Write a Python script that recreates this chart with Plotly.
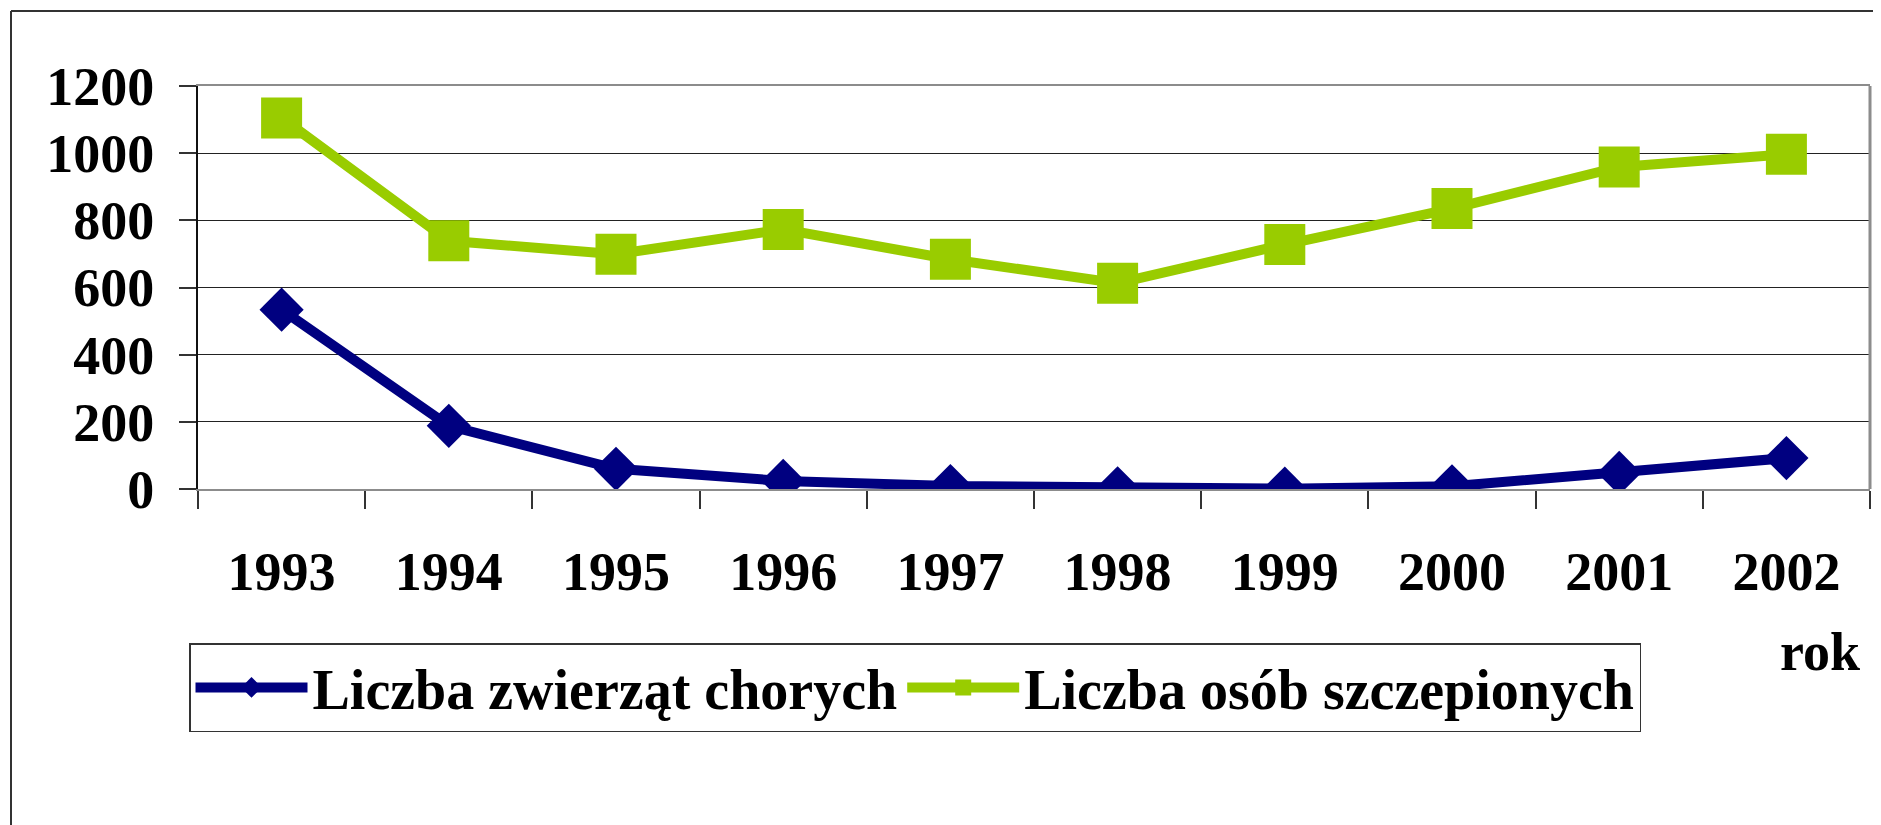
import plotly.graph_objects as go

years = ["1993", "1994", "1995", "1996", "1997", "1998", "1999", "2000", "2001", "2002"]
chore = [534, 188, 60, 24, 9, 2, 1, 8, 48, 92]
szczepione = [1105, 739, 699, 773, 684, 613, 728, 835, 959, 997]
y_ticks = [0, 200, 400, 600, 800, 1000, 1200]

# page has an 8px body margin: work in screen pixels, convert to figure pixels
OFF = 8
W, H = 1881 - OFF, 825 - OFF
PL, PR, PT, PB = 198, 1870, 86, 489  # plot area in screen pixels
ML, MR, MT, MB = PL - OFF, W - (PR - OFF), PT - OFF, H - (PB - OFF)
PW, PH = W - ML - MR, H - MT - MB

FONT = "Liberation Serif"

fig = go.Figure()
fig.add_trace(go.Scatter(
    x=years, y=chore, name="Liczba zwierząt chorych", mode="lines+markers",
    line=dict(color="#000080", width=10),
    marker=dict(symbol="diamond", size=34, color="#000080"),
))
fig.add_trace(go.Scatter(
    x=years, y=szczepione, name="Liczba osób szczepionych", mode="lines+markers",
    line=dict(color="#99CC00", width=10),
    marker=dict(symbol="square", size=41, color="#99CC00"),
))

def px_x(p):  # screen px -> paper
    return (p - OFF - ML) / PW

def px_y(p):
    return (H - MB - (p - OFF)) / PH

shapes = [
    dict(type="line", xref="paper", yref="paper", x0=px_x(11), x1=px_x(1900),
         y0=px_y(11), y1=px_y(11), line=dict(color="#333333", width=2)),
    dict(type="line", xref="paper", yref="paper", x0=px_x(11), x1=px_x(11),
         y0=px_y(11), y1=px_y(840), line=dict(color="#333333", width=2)),
    dict(type="line", xref="paper", yref="paper", x0=1, x1=1, y0=0, y1=1,
         line=dict(color="#8c8c8c", width=3)),
]

fig.update_layout(
    width=W, height=H,
    margin=dict(l=ML, r=MR, t=MT, b=MB, autoexpand=False),
    paper_bgcolor="white", plot_bgcolor="white",
    font=dict(family=FONT, size=53, color="black"),
    showlegend=True,
    legend=dict(
        orientation="h", x=px_x(189), y=px_y(643), xanchor="left", yanchor="top",
        font=dict(family=FONT, size=56, color="black", weight="bold"),
        bordercolor="#333333", borderwidth=1.5, bgcolor="white",
        itemwidth=112, tracegroupgap=0,
    ),
    shapes=shapes,
    annotations=[dict(
        text="<b>rok</b>", xref="paper", yref="paper", x=px_x(1820), y=px_y(652),
        xanchor="center", yanchor="middle", showarrow=False,
        font=dict(family=FONT, size=54, color="black"),
    )],
)

fig.update_xaxes(
    type="category", categoryorder="array", categoryarray=years,
    range=[-0.5, len(years) - 0.5], autorange=False,
    tickson="boundaries", ticks="outside", ticklen=18, tickwidth=1.5, tickcolor="#333333",
    showline=True, linecolor="#8c8c8c", linewidth=2, mirror=True,
    showgrid=False,
    tickfont=dict(family=FONT, size=54, color="black", weight="bold"),
    ticklabelstandoff=34,
)
fig.update_yaxes(
    range=[0, 1200], autorange=False, tickvals=y_ticks, ticktext=[str(v) for v in y_ticks],
    ticks="outside", ticklen=17, tickwidth=1.5, tickcolor="#333333",
    showline=True, linecolor="#111111", linewidth=2,
    showgrid=True, gridcolor="#222222", gridwidth=1, zeroline=False,
    tickfont=dict(family=FONT, size=54, color="black", weight="bold"),
    ticklabelstandoff=14,
)

fig.write_html("out.html")
